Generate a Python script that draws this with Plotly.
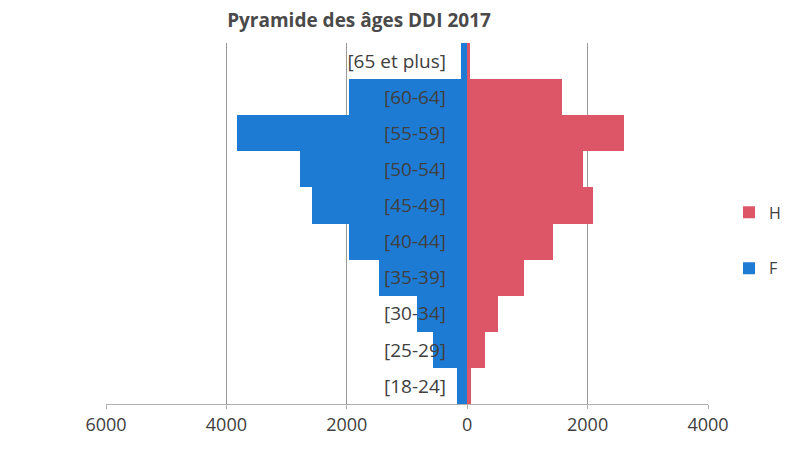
import plotly.graph_objects as go

# Age pyramid data (effectifs par tranche d'âge)
categories = ["[18-24]", "[25-29]", "[30-34]", "[35-39]", "[40-44]",
              "[45-49]", "[50-54]", "[55-59]", "[60-64]", "[65 et plus]"]
femmes = [170, 560, 840, 1470, 1960, 2570, 2780, 3830, 1960, 110]
hommes = [70, 290, 510, 950, 1430, 2090, 1930, 2600, 1580, 50]

tick_values = [-6000, -4000, -2000, 0, 2000, 4000]
tick_labels = ["6000", "4000", "2000", "0", "2000", "4000"]

BLUE = "#1e7bd4"
RED = "#dc5668"
TEXT = "#404040"
FONT = "Open Sans"
W, H = 785, 450

fig = go.Figure()
fig.add_trace(go.Bar(
    y=categories, x=hommes, orientation="h", name="H",
    marker=dict(color=RED, line=dict(width=0)),
    legendgroup="H",
))
fig.add_trace(go.Bar(
    y=categories, x=[-v for v in femmes], orientation="h", name="F",
    marker=dict(color=BLUE, line=dict(width=0)),
    legendgroup="F",
))

fig.update_layout(
    width=W, height=H,
    margin=dict(l=0, r=0, t=43, b=46, autoexpand=False),
    paper_bgcolor="white", plot_bgcolor="white",
    barmode="overlay", bargap=0,
    font=dict(family=FONT, color=TEXT),
    title=dict(
        text="<b>Pyramide des âges DDI 2017</b>",
        x=359 / W, xanchor="center", y=0.955, yanchor="middle",
        font=dict(family=FONT, size=19, color="#4a4a4a"),
    ),
    legend=dict(
        x=729 / W, y=0.453, xanchor="left", yanchor="middle",
        font=dict(size=16, color=TEXT),
        tracegroupgap=32, itemwidth=30,
        bgcolor="rgba(0,0,0,0)",
    ),
    xaxis=dict(
        domain=[106 / W, 708 / W],
        range=[-6000, 4000],
        tickvals=tick_values, ticktext=tick_labels,
        showgrid=True, gridcolor="#999999", gridwidth=1,
        zeroline=True, zerolinecolor="#999999", zerolinewidth=1,
        showline=True, linecolor="#b0b0b0", linewidth=1,
        ticks="outside", ticklen=4, tickcolor="#b0b0b0",
        tickfont=dict(size=18, color=TEXT),
        fixedrange=True,
    ),
    yaxis=dict(
        categoryorder="array", categoryarray=categories,
        range=[-0.5, 9.5],
        anchor="free", position=466 / W,
        showline=False, showgrid=False, zeroline=False,
        ticks="", ticklabelstandoff=20,
        tickfont=dict(size=19, color=TEXT),
        fixedrange=True,
    ),
)

fig.write_html("out.html")
